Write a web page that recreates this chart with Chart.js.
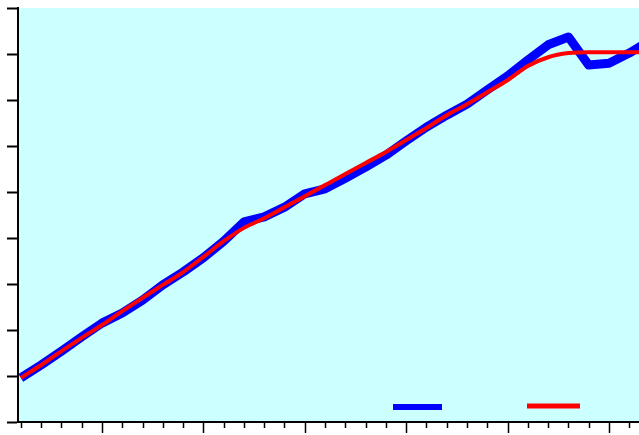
<!DOCTYPE html>
<html>
<head>
<meta charset="utf-8">
<script src="https://cdn.jsdelivr.net/npm/chart.js@4/dist/chart.umd.min.js"></script>
<style>
  html, body { margin: 0; padding: 0; background: #fff; }
  #wrap { width: 639px; height: 435px; position: relative; }
</style>
</head>
<body>
<div id="wrap"><canvas id="chart"></canvas></div>
<script>
// x positions (one per step), measured and fitted series
const steps = [1, 2, 3, 4, 5, 6, 7, 8, 9, 10, 11, 12, 13, 14, 15, 16,
  17, 18, 19, 20, 21, 22, 23, 24, 25, 26, 27, 28, 29, 30, 31, 32];
const measured = [96, 124, 154, 185, 215, 237, 265, 298, 326, 357, 393, 435, 446, 467, 496, 507,
  530, 554, 580, 611, 641, 667, 691, 722, 752, 787, 820, 837, 776, 780, 802, 828];
const fitted = [96, 124, 154, 183, 211, 241, 270, 298, 326, 359, 393, 422, 443, 467, 491, 515,
  539, 563, 587, 613, 639, 667, 691, 717, 743, 774, 793, 802, 804, 804, 804, 804];

const toPoints = (vals) => vals.map((v, i) => ({ x: steps[i], y: v }));

// cyan plot background
const plotBg = {
  id: 'plotBg',
  beforeDraw(chart) {
    const { ctx, chartArea: a } = chart;
    ctx.save();
    ctx.fillStyle = '#CCFFFF';
    ctx.fillRect(a.left, a.top, a.right - a.left, a.bottom - a.top);
    ctx.restore();
  }
};

// x ticks: short every step, long every 5
const xTicks = {
  id: 'xTicks',
  afterDraw(chart) {
    const { ctx, scales: { x } } = chart;
    ctx.save();
    ctx.strokeStyle = '#000';
    ctx.lineWidth = 1.5;
    x.ticks.forEach((t) => {
      const px = Math.round(x.getPixelForValue(t.value)) + 0.5;
      const len = t.value % 5 === 0 ? 11 : 6;
      ctx.beginPath();
      ctx.moveTo(px, x.top);
      ctx.lineTo(px, x.top + len);
      ctx.stroke();
    });
    ctx.restore();
  }
};

// legend samples without text, inside the plot
const lineKey = {
  id: 'lineKey',
  afterDraw(chart, args, opts) {
    const { ctx } = chart;
    ctx.save();
    opts.items.forEach((it) => {
      const ds = chart.data.datasets[it.dataset];
      ctx.strokeStyle = ds.borderColor;
      ctx.lineWidth = it.width;
      ctx.beginPath();
      ctx.moveTo(it.x0, it.y);
      ctx.lineTo(it.x1, it.y);
      ctx.stroke();
    });
    ctx.restore();
  }
};

new Chart(document.getElementById('chart'), {
  type: 'line',
  data: {
    datasets: [
      {
        label: 'measured',
        data: toPoints(measured),
        borderColor: '#0000FF',
        borderWidth: 9,
        pointRadius: 0,
        tension: 0,
        borderJoinStyle: 'round',
        order: 1
      },
      {
        label: 'fitted',
        data: toPoints(fitted),
        borderColor: '#FF0000',
        borderWidth: 4,
        pointRadius: 0,
        cubicInterpolationMode: 'monotone',
        order: 0
      }
    ]
  },
  options: {
    responsive: true,
    maintainAspectRatio: false,
    animation: false,
    layout: { padding: { left: 7, top: 8, right: 0, bottom: 2 } },
    plugins: {
      legend: { display: false },
      tooltip: { enabled: false },
      lineKey: {
        items: [
          { dataset: 0, x0: 393, x1: 442, y: 407, width: 6 },
          { dataset: 1, x0: 527, x1: 580, y: 406, width: 5 }
        ]
      }
    },
    scales: {
      x: {
        type: 'linear',
        min: 0.86,
        max: 31.48,
        ticks: { display: false, stepSize: 1, includeBounds: false },
        grid: { drawOnChartArea: false, drawTicks: true, tickLength: 11, tickColor: 'transparent' },
        border: { display: true, color: '#000', width: 2 }
      },
      y: {
        min: 0,
        max: 900,
        ticks: { display: false, stepSize: 100 },
        grid: { drawOnChartArea: false, drawTicks: true, tickLength: 11, tickColor: '#000', tickWidth: 2 },
        border: { display: true, color: '#000', width: 2 }
      }
    }
  },
  plugins: [plotBg, xTicks, lineKey]
});
</script>
</body>
</html>
